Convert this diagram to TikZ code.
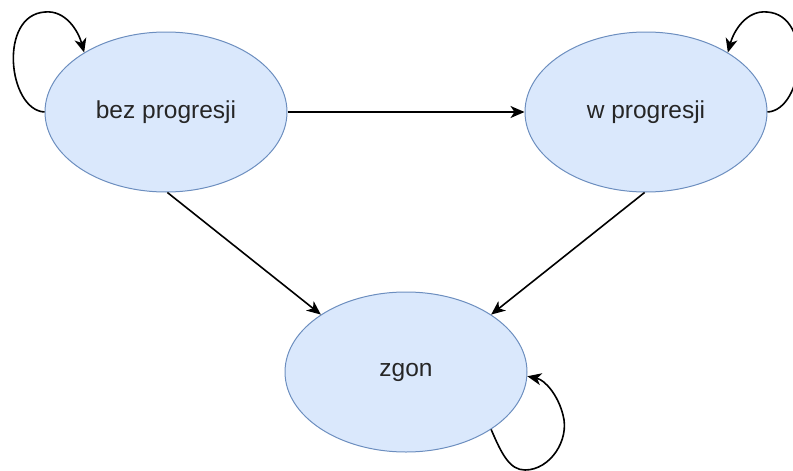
\documentclass[tikz,border=0pt]{standalone}
\usepackage{fontspec}
\setmainfont{Liberation Sans}
\usetikzlibrary{arrows.meta,shapes.geometric}
\definecolor{stfill}{HTML}{DAE8FC}
\definecolor{stline}{HTML}{6C8EBF}
\tikzset{
  state/.style={ellipse, draw=stline, fill=stfill, line width=1pt,
    minimum width=242pt, minimum height=160pt, inner sep=0pt,
    font=\fontsize{24.5}{29}\selectfont, text=black!85},
  edge/.style={draw=black, line width=1.6pt,
    -{Stealth[length=14pt,width=12pt,inset=4pt]}}
}
\begin{document}
\begin{tikzpicture}[x=1pt,y=-1pt]
\useasboundingbox (0,0) rectangle (793,471);
\node[state] (b) at (166,112) {bez progresji};
\node[state] (w) at (646,112) {w progresji};
\node[state] (z) at (406,372) {zgon};

\draw[edge] (b.east) -- (w.west);
\draw[edge] (b.-89) -- (z.146);
\draw[edge] (w.-91) -- (z.34);

\draw[edge] (b.west) .. controls (8,110) and (-2,15) .. (45,12)
  .. controls (65,10) and (78,30) .. (b.144);
\draw[edge] (w.east) .. controls (804,110) and (814,15) .. (767,12)
  .. controls (747,10) and (734,30) .. (w.36);
\draw[edge] (z.-34) .. controls (502,455) and (510,470) .. (525,470)
  .. controls (550,470) and (570,440) .. (563,415)
  .. controls (558,395) and (545,380) .. (z.-2);
\end{tikzpicture}
\end{document}
